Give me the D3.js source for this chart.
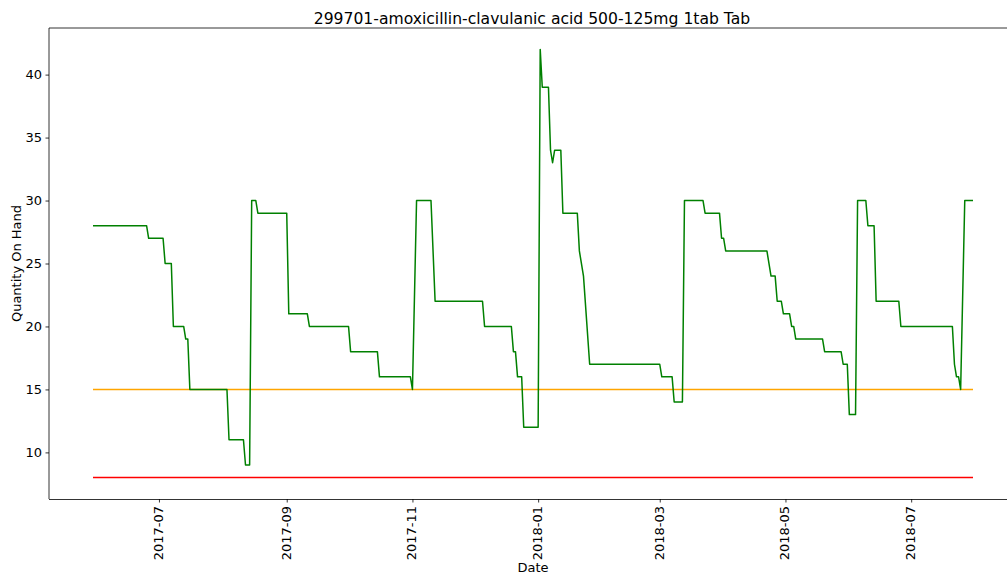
<!DOCTYPE html>
<html>
<head>
<meta charset="utf-8">
<script src="https://cdn.jsdelivr.net/npm/d3@7/dist/d3.min.js"></script>
<style>
  html, body { margin: 0; padding: 0; background: #fff; overflow: hidden; }
  svg { display: block; font-family: "DejaVu Sans", sans-serif; }
</style>
</head>
<body>
<svg id="chart" width="1007" height="580"></svg>
<script>
// Stock on hand for item 299701, one vertex per change of the step line
const dates = [
  "2017-05-30","2017-06-25","2017-06-26","2017-07-03","2017-07-04","2017-07-07","2017-07-08",
  "2017-07-13","2017-07-14","2017-07-15","2017-07-16","2017-08-03","2017-08-04","2017-08-11",
  "2017-08-12","2017-08-14","2017-08-15","2017-08-17","2017-08-18","2017-09-01","2017-09-02",
  "2017-09-11","2017-09-12","2017-10-01","2017-10-02","2017-10-15","2017-10-16","2017-10-31",
  "2017-11-01","2017-11-03","2017-11-10","2017-11-12","2017-12-05","2017-12-06","2017-12-19",
  "2017-12-20","2017-12-21","2017-12-22","2017-12-24","2017-12-25","2018-01-01","2018-01-02",
  "2018-01-03","2018-01-06","2018-01-07","2018-01-08","2018-01-09","2018-01-12","2018-01-13",
  "2018-01-20","2018-01-21","2018-01-23","2018-01-26","2018-03-01","2018-03-02","2018-03-07",
  "2018-03-08","2018-03-12","2018-03-13","2018-03-22","2018-03-23","2018-03-30","2018-03-31",
  "2018-04-01","2018-04-02","2018-04-22","2018-04-24","2018-04-26","2018-04-27","2018-04-29",
  "2018-04-30","2018-05-03","2018-05-04","2018-05-05","2018-05-06","2018-05-19","2018-05-20",
  "2018-05-28","2018-05-29","2018-05-31","2018-06-01","2018-06-04","2018-06-05","2018-06-09",
  "2018-06-10","2018-06-13","2018-06-14","2018-06-25","2018-06-26","2018-07-21","2018-07-22",
  "2018-07-23","2018-07-24","2018-07-25","2018-07-27","2018-07-31"
];
const quantity = [
  28,28,27,27,25,25,20,
  20,19,19,15,15,11,11,
  9,9,30,30,29,29,21,
  21,20,20,18,18,16,16,
  15,30,30,22,22,20,20,
  18,18,16,16,12,12,42,
  39,39,34,33,34,34,29,
  29,26,24,17,17,16,16,
  14,14,30,30,29,29,27,
  27,26,26,24,24,22,22,
  21,21,20,20,19,19,18,
  18,17,17,13,13,30,30,
  28,28,22,22,20,20,17,
  16,16,15,30,30
];
const reorderLevel = 15;   // orange reference line
const minimumLevel = 8;    // red reference line
const yTicks = [10, 15, 20, 25, 30, 35, 40];
const xTickLabels = ["2017-07","2017-09","2017-11","2018-01","2018-03","2018-05","2018-07"];

const titleText = "299701-amoxicillin-clavulanic acid 500-125mg 1tab Tab";

const parse = d3.timeParse("%Y-%m-%d");
const parseMonth = d3.timeParse("%Y-%m");
const points = dates.map((d, i) => ({ date: parse(d), value: quantity[i] }));

const svg = d3.select("#chart");
const plotLeft = 49, plotTop = 28, plotBottom = 499, plotRight = 1017;

// 5% padding on both axes, as in the usual plotting defaults
const t0 = points[0].date, t1 = points[points.length - 1].date;
const pad = (t1 - t0) * 0.05;
const x = d3.scaleTime()
  .domain([new Date(+t0 - pad), new Date(+t1 + pad)])
  .range([plotLeft, plotRight]);

const vMin = minimumLevel, vMax = d3.max(quantity);
const vPad = (vMax - vMin) * 0.05;
const y = d3.scaleLinear()
  .domain([vMin - vPad, vMax + vPad])
  .range([plotBottom, plotTop]);

// series
const line = d3.line().x(d => x(d.date)).y(d => y(d.value));

svg.append("line")
  .attr("x1", x(t0)).attr("x2", x(t1))
  .attr("y1", y(reorderLevel)).attr("y2", y(reorderLevel))
  .attr("stroke", "#ffa500").attr("stroke-width", 1.5);

svg.append("line")
  .attr("x1", x(t0)).attr("x2", x(t1))
  .attr("y1", y(minimumLevel)).attr("y2", y(minimumLevel))
  .attr("stroke", "#ff0000").attr("stroke-width", 1.5);

svg.append("path")
  .datum(points)
  .attr("d", line)
  .attr("fill", "none")
  .attr("stroke", "#008000")
  .attr("stroke-width", 1.5)
  .attr("stroke-linejoin", "round");

// spines
const spine = svg.append("g").attr("stroke", "#000").attr("stroke-width", 0.8).attr("fill", "none");
spine.append("line").attr("x1", plotLeft).attr("x2", plotLeft).attr("y1", plotTop).attr("y2", plotBottom);
spine.append("line").attr("x1", plotLeft).attr("x2", plotRight).attr("y1", plotBottom + 0.5).attr("y2", plotBottom + 0.5);
spine.append("line").attr("x1", plotLeft).attr("x2", plotRight).attr("y1", plotTop).attr("y2", plotTop);
spine.append("line").attr("x1", plotRight).attr("x2", plotRight).attr("y1", plotTop).attr("y2", plotBottom);

// y axis
const yAxis = d3.axisLeft(y).tickValues(yTicks).tickSize(3.5).tickPadding(3.5);
const gy = svg.append("g").attr("transform", `translate(${plotLeft},0)`).call(yAxis);
gy.select(".domain").remove();
gy.selectAll(".tick line").attr("stroke", "#000").attr("stroke-width", 0.8);
gy.selectAll(".tick text").attr("font-size", 13).attr("fill", "#000")
  .attr("font-family", "DejaVu Sans");

// x axis
const xTickDates = xTickLabels.map(parseMonth);
const xAxis = d3.axisBottom(x).tickValues(xTickDates).tickFormat(d3.timeFormat("%Y-%m"))
  .tickSize(3.5).tickPadding(3.5);
const gx = svg.append("g").attr("transform", `translate(0,${plotBottom})`).call(xAxis);
gx.select(".domain").remove();
gx.selectAll(".tick line").attr("stroke", "#000").attr("stroke-width", 0.8);
gx.selectAll(".tick text")
  .attr("font-size", 13).attr("fill", "#000").attr("font-family", "DejaVu Sans")
  .attr("text-anchor", "end")
  .attr("dy", null)
  .attr("y", 0)
  .attr("transform", "translate(0,7) rotate(-90)")
  .attr("dominant-baseline", "middle");

// labels
svg.append("text")
  .attr("x", 532).attr("y", 24)
  .attr("text-anchor", "middle")
  .attr("font-size", 15.6)
  .attr("fill", "#000")
  .text(titleText);

svg.append("text")
  .attr("x", 533).attr("y", 572)
  .attr("text-anchor", "middle")
  .attr("font-size", 13)
  .attr("fill", "#000")
  .text("Date");

svg.append("text")
  .attr("transform", `translate(21,${(plotTop + plotBottom) / 2}) rotate(-90)`)
  .attr("text-anchor", "middle")
  .attr("font-size", 13)
  .attr("fill", "#000")
  .text("Quantity On Hand");
</script>
</body>
</html>
